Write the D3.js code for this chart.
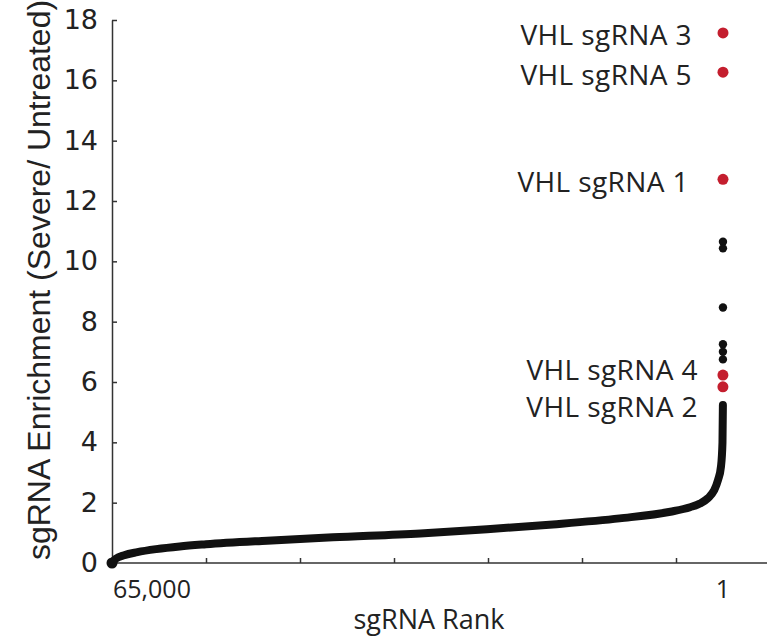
<!DOCTYPE html>
<html>
<head>
<meta charset="utf-8">
<script src="https://cdn.jsdelivr.net/npm/d3@7"></script>
<style>
  body { margin: 0; background: #fff; }
  svg { display: block; }
</style>
</head>
<body>
<svg width="767" height="639"></svg>
<script>
// tick values
const enrichTicks = [0, 2, 4, 6, 8, 10, 12, 14, 16, 18];
const rankTicks = [65000, 55000, 45000, 35000, 25000, 15000, 5000];
const rankLabels = [65000, 1];

// bulk of the sgRNAs
const curveRanks = [65000, 64600, 63700, 62300, 60300, 57800, 55000, 48500, 41500, 32200,
    25100, 18100, 11000, 5600, 3500, 2450, 1600, 960, 530, 215, 56, 12];
const curveValues = [0, 0.14, 0.26, 0.36, 0.46, 0.55, 0.62, 0.74, 0.85, 0.98,
    1.12, 1.28, 1.48, 1.70, 1.85, 1.97, 2.15, 2.4, 2.75, 3.2, 4.0, 5.24];

// top scoring sgRNAs that are not VHL
const otherRanks = [4, 5, 6, 7, 8, 9];
const otherValues = [10.65, 10.43, 8.47, 7.25, 7.0, 6.75];

// VHL sgRNAs
const hitRanks = [1, 2, 3, 10, 11];
const hitValues = [17.57, 16.27, 12.72, 6.23, 5.84];
const hitNames = ["VHL sgRNA 3", "VHL sgRNA 5", "VHL sgRNA 1", "VHL sgRNA 4", "VHL sgRNA 2"];

const width = 767, height = 639;
const svg = d3.select("svg");

const x = d3.scaleLinear().domain([65000, 1]).range([112, 723]);
const y = d3.scaleLinear().domain([0, 18]).range([563, 20]);

const axisColor = "#333";

// y axis
const yAxis = svg.append("g")
    .attr("transform", "translate(112,0)")
    .call(d3.axisLeft(y).tickValues(enrichTicks).tickSize(-5).tickSizeOuter(0).tickPadding(14));
yAxis.select(".domain").attr("stroke", axisColor).attr("stroke-width", 1.5);
yAxis.selectAll(".tick line").attr("stroke", axisColor).attr("stroke-width", 1.5);
yAxis.selectAll(".tick text")
    .attr("fill", "#222")
    .style("font-family", "'DejaVu Sans', sans-serif")
    .style("font-size", "27px");

// x axis
const xAxis = svg.append("g")
    .attr("transform", "translate(0,563)")
    .call(d3.axisBottom(x).tickValues(rankTicks).tickSize(-5).tickSizeOuter(0).tickFormat(""));
xAxis.select(".domain").remove();
xAxis.selectAll(".tick line").attr("stroke", axisColor).attr("stroke-width", 1.5);
svg.append("line")
    .attr("x1", x(65000)).attr("x2", width)
    .attr("y1", 563).attr("y2", 563)
    .attr("stroke", axisColor).attr("stroke-width", 1.5);

svg.selectAll("text.rank-label")
    .data(rankLabels)
    .enter().append("text")
    .attr("class", "rank-label")
    .attr("x", d => d === 1 ? x(d) : x(d) + 1)
    .attr("y", 598)
    .attr("text-anchor", d => d === 1 ? "middle" : "start")
    .attr("fill", "#222")
    .style("font-family", "'Open Sans', sans-serif")
    .style("font-size", "25px")
    .text(d3.format(","));

// axis titles
svg.append("text")
    .attr("x", 429).attr("y", 629)
    .attr("text-anchor", "middle")
    .attr("fill", "#222")
    .style("font-family", "'Open Sans', sans-serif")
    .style("font-size", "27px")
    .text("sgRNA Rank");

svg.append("text")
    .attr("transform", "translate(50,280) rotate(-90)")
    .attr("text-anchor", "middle")
    .attr("fill", "#222")
    .style("font-family", "'Liberation Sans', Arial, sans-serif")
    .style("font-size", "32px")
    .text("sgRNA Enrichment (Severe/ Untreated)");

// the ranked curve
const line = d3.line()
    .x((d, i) => x(curveRanks[i]))
    .y((d, i) => y(curveValues[i]))
    .curve(d3.curveMonotoneX);

svg.append("path")
    .datum(curveRanks)
    .attr("d", line)
    .attr("fill", "none")
    .attr("stroke", "#111")
    .attr("stroke-width", 8)
    .attr("stroke-linecap", "round")
    .attr("stroke-linejoin", "round");

svg.append("circle")
    .attr("cx", x(65000)).attr("cy", y(0)).attr("r", 5.5)
    .attr("fill", "#111");

svg.selectAll("circle.other")
    .data(otherRanks)
    .enter().append("circle")
    .attr("class", "other")
    .attr("cx", d => x(d))
    .attr("cy", (d, i) => y(otherValues[i]))
    .attr("r", 4.2)
    .attr("fill", "#111");

svg.selectAll("circle.hit")
    .data(hitRanks)
    .enter().append("circle")
    .attr("class", "hit")
    .attr("cx", d => x(d))
    .attr("cy", (d, i) => y(hitValues[i]))
    .attr("r", 5.5)
    .attr("fill", "#c41e2e");

// label placement next to each hit (dx from the dot, baseline shift)
const labelDx = [-31, -31, -34, -25, -25];
const labelDy = [12, 13, 13, 5, 30];

svg.selectAll("text.hit-label")
    .data(hitNames)
    .enter().append("text")
    .attr("class", "hit-label")
    .attr("x", (d, i) => x(hitRanks[i]) + labelDx[i])
    .attr("y", (d, i) => y(hitValues[i]) + labelDy[i])
    .attr("text-anchor", "end")
    .attr("fill", "#222")
    .style("font-family", "'Open Sans', sans-serif")
    .style("font-size", "28px")
    .style("letter-spacing", "0.4px")
    .text(d => d);
</script>
</body>
</html>
